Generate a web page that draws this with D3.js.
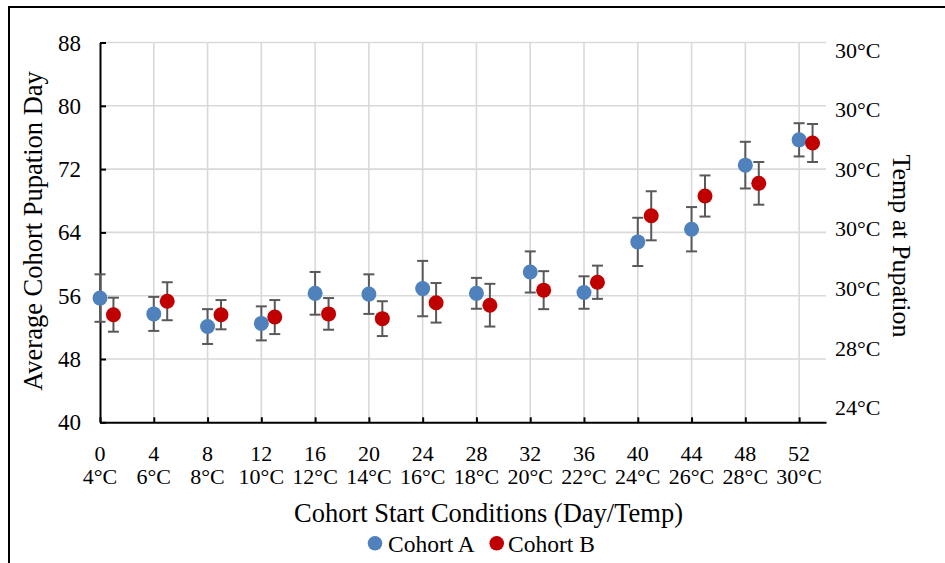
<!DOCTYPE html>
<html>
<head>
<meta charset="utf-8">
<script src="https://cdn.jsdelivr.net/npm/d3@7"></script>
<style>
  html, body { margin: 0; padding: 0; background: #fff; }
  svg { display: block; }
  text { font-family: "Liberation Serif", "Times New Roman", serif; fill: #000; }
</style>
</head>
<body>
<svg id="chart" width="945" height="563"></svg>
<script>
// Cohort start day and temperature at start
const startDays = [0, 4, 8, 12, 16, 20, 24, 28, 32, 36, 40, 44, 48, 52];
const startTemps = ["4°C", "6°C", "8°C", "10°C", "12°C", "14°C", "16°C", "18°C", "20°C", "22°C", "24°C", "26°C", "28°C", "30°C"];

// Average pupation day per cohort, with error-bar half widths
const cohortA = [55.7, 53.7, 52.1, 52.5, 56.3, 56.2, 56.9, 56.3, 59.0, 56.4, 62.8, 64.4, 72.5, 75.7];
const errA    = [3.0, 2.15, 2.2, 2.15, 2.7, 2.5, 3.5, 1.95, 2.6, 2.05, 3.05, 2.8, 2.95, 2.1];
const cohortB = [53.6, 55.3, 53.6, 53.3, 53.7, 53.1, 55.1, 54.8, 56.7, 57.7, 66.1, 68.6, 70.2, 75.3];
const errB    = [2.15, 2.4, 1.85, 2.15, 2.0, 2.2, 2.5, 2.7, 2.4, 2.1, 3.1, 2.6, 2.7, 2.4];

// Left (day) axis ticks and secondary temperature labels, bottom to top
const dayTicks = [40, 48, 56, 64, 72, 80, 88];
const tempAxisLabels = ["24°C", "28°C", "30°C", "30°C", "30°C", "30°C", "30°C"];

const seriesNames = ["Cohort A", "Cohort B"];
const seriesColors = ["#4F81BD", "#C00000"];

const svg = d3.select("#chart");

// Outer frame
svg.append("path")
  .attr("d", "M9,570 L9,7 L950,7")
  .attr("fill", "none").attr("stroke", "#000").attr("stroke-width", 2);

const plotL = 100, plotR = 826, plotT = 42.5, plotB = 422.3;
const x = d3.scaleLinear().domain([0, 54]).range([plotL, plotR]);
const y = d3.scaleLinear().domain([40, 88]).range([plotB, plotT]);
const yTemp = d3.scalePoint().domain(d3.range(tempAxisLabels.length)).range([407.5, 50]);

// Gridlines
const grid = svg.append("g").attr("stroke", "#d9d9d9").attr("stroke-width", 1.6);
grid.selectAll(".h").data(dayTicks.slice(1)).join("line")
  .attr("x1", plotL).attr("x2", plotR)
  .attr("y1", d => y(d)).attr("y2", d => y(d));
grid.selectAll(".v").data(startDays.slice(1)).join("line")
  .attr("x1", d => x(d)).attr("x2", d => x(d))
  .attr("y1", plotT).attr("y2", plotB);

// Axes with inside ticks
const xAxis = svg.append("g").attr("transform", `translate(0,${plotB})`)
  .call(d3.axisBottom(x).tickValues(startDays).tickSize(-5).tickSizeOuter(0).tickFormat(""));
const yAxis = svg.append("g").attr("transform", `translate(${plotL},0)`)
  .call(d3.axisLeft(y).tickValues(dayTicks).tickSize(-6).tickSizeOuter(0).tickFormat(""));
[xAxis, yAxis].forEach(g => {
  g.select(".domain").attr("stroke", "#000").attr("stroke-width", 2);
  g.selectAll(".tick line").attr("stroke", "#000").attr("stroke-width", 2);
});

// Left tick labels
svg.append("g").selectAll("text").data(dayTicks).join("text")
  .attr("x", 81).attr("y", d => y(d)).attr("dy", "0.35em")
  .attr("text-anchor", "end").attr("font-size", 23)
  .text(d => d);

// Two-line category labels: start day and start temperature
const xl = svg.append("g").attr("font-size", 22).attr("text-anchor", "middle");
xl.selectAll(".day").data(startDays).join("text")
  .attr("x", d => x(d)).attr("y", 461).text(d => d);
xl.selectAll(".temp").data(startDays).join("text")
  .attr("x", d => x(d)).attr("y", 484).text((d, i) => startTemps[i]);

// Secondary axis labels
svg.append("g").selectAll("text").data(tempAxisLabels).join("text")
  .attr("x", 835).attr("y", (d, i) => yTemp(i)).attr("dy", "0.35em")
  .attr("font-size", 22)
  .text(d => d);

// Axis titles
svg.append("text")
  .attr("transform", "translate(42,231) rotate(-90)")
  .attr("text-anchor", "middle").attr("font-size", 26.5)
  .text("Average Cohort Pupation Day");
svg.append("text")
  .attr("transform", "translate(893,246) rotate(90)")
  .attr("text-anchor", "middle").attr("font-size", 26)
  .text("Temp at Pupation");
svg.append("text")
  .attr("x", 488.5).attr("y", 522)
  .attr("text-anchor", "middle").attr("font-size", 26.5)
  .text("Cohort Start Conditions (Day/Temp)");

// Series: error bars then markers; cohort B is plotted one day later
const series = [
  { vals: cohortA, errs: errA, offset: 0 },
  { vals: cohortB, errs: errB, offset: 1 }
];
series.forEach((s, si) => {
  const pts = startDays.map((d, i) => ({ x: d + s.offset, v: s.vals[i], e: s.errs[i] }));
  const eb = svg.append("g").attr("stroke", "#595959").attr("stroke-width", 2);
  eb.selectAll(".stem").data(pts).join("line")
    .attr("x1", p => x(p.x)).attr("x2", p => x(p.x))
    .attr("y1", p => y(p.v + p.e)).attr("y2", p => y(p.v - p.e));
  eb.selectAll(".capT").data(pts).join("line")
    .attr("x1", p => x(p.x) - 5.5).attr("x2", p => x(p.x) + 5.5)
    .attr("y1", p => y(p.v + p.e)).attr("y2", p => y(p.v + p.e));
  eb.selectAll(".capB").data(pts).join("line")
    .attr("x1", p => x(p.x) - 5.5).attr("x2", p => x(p.x) + 5.5)
    .attr("y1", p => y(p.v - p.e)).attr("y2", p => y(p.v - p.e));
  svg.append("g").selectAll("circle").data(pts).join("circle")
    .attr("cx", p => x(p.x)).attr("cy", p => y(p.v)).attr("r", 7.5)
    .attr("fill", seriesColors[si]);
});

// Legend
const legendItems = [{ cx: 375, tx: 388 }, { cx: 496.7, tx: 508 }];
const lg = svg.append("g");
legendItems.forEach((it, i) => {
  lg.append("circle").attr("cx", it.cx).attr("cy", 543.3).attr("r", 7.3).attr("fill", seriesColors[i]);
  lg.append("text").attr("x", it.tx).attr("y", 551.7).attr("font-size", 23.5).text(seriesNames[i]);
});
</script>
</body>
</html>
